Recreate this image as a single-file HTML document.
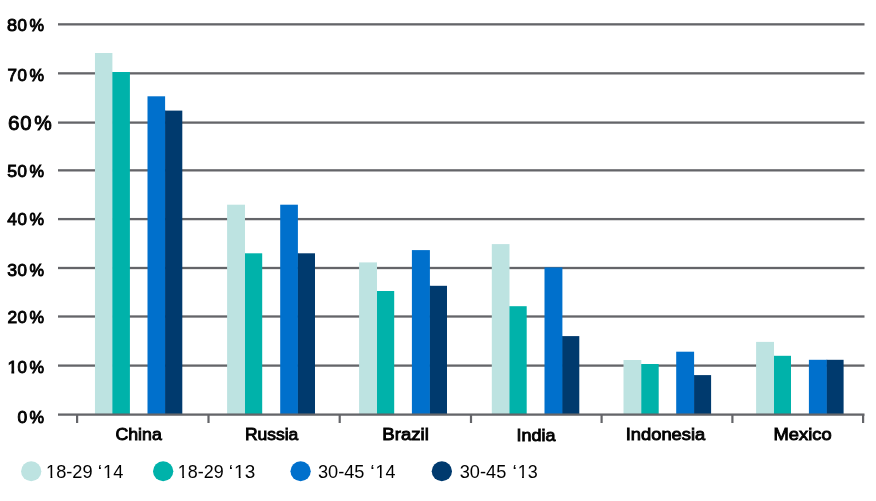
<!DOCTYPE html>
<html><head><meta charset="utf-8"><title>Chart</title>
<style>
html,body{margin:0;padding:0;background:#fff;width:876px;height:501px;overflow:hidden}
svg{display:block}
text{font-family:"Liberation Sans",Arial,Helvetica,sans-serif;fill:#000}
</style></head><body>
<svg width="876" height="501" viewBox="0 0 876 501">
<rect x="0" y="0" width="876" height="501" fill="#fff"/>
<rect x="58" y="364.45" width="806.5" height="2.3" fill="#646569"/>
<rect x="58" y="315.35" width="806.5" height="2.3" fill="#646569"/>
<rect x="58" y="266.85" width="806.5" height="2.3" fill="#646569"/>
<rect x="58" y="217.95" width="806.5" height="2.3" fill="#646569"/>
<rect x="58" y="169.20" width="806.5" height="2.3" fill="#646569"/>
<rect x="58" y="121.45" width="806.5" height="2.3" fill="#646569"/>
<rect x="58" y="72.20" width="806.5" height="2.3" fill="#646569"/>
<rect x="58" y="23.20" width="806.5" height="2.3" fill="#646569"/>
<rect x="111.90" y="72.00" width="1" height="342.60" fill="#bde3e1"/>
<rect x="164.60" y="110.60" width="1" height="304.00" fill="#0070cc"/>
<rect x="94.97" y="53.00" width="17.43" height="361.60" fill="#bde3e1"/>
<rect x="112.40" y="72.00" width="17.50" height="342.60" fill="#00b2aa"/>
<rect x="147.50" y="96.30" width="17.60" height="318.30" fill="#0070cc"/>
<rect x="165.10" y="110.60" width="17.20" height="304.00" fill="#003a6e"/>
<rect x="244.50" y="253.30" width="1" height="161.30" fill="#bde3e1"/>
<rect x="297.40" y="253.30" width="1" height="161.30" fill="#0070cc"/>
<rect x="227.10" y="204.70" width="17.90" height="209.90" fill="#bde3e1"/>
<rect x="245.00" y="253.30" width="17.20" height="161.30" fill="#00b2aa"/>
<rect x="280.20" y="204.70" width="17.70" height="209.90" fill="#0070cc"/>
<rect x="297.90" y="253.30" width="17.10" height="161.30" fill="#003a6e"/>
<rect x="376.50" y="291.00" width="1" height="123.60" fill="#bde3e1"/>
<rect x="429.40" y="285.80" width="1" height="128.80" fill="#0070cc"/>
<rect x="359.10" y="262.40" width="17.90" height="152.20" fill="#bde3e1"/>
<rect x="377.00" y="291.00" width="17.20" height="123.60" fill="#00b2aa"/>
<rect x="411.90" y="250.10" width="18.00" height="164.50" fill="#0070cc"/>
<rect x="429.90" y="285.80" width="17.10" height="128.80" fill="#003a6e"/>
<rect x="509.00" y="306.20" width="1" height="108.40" fill="#bde3e1"/>
<rect x="561.90" y="336.10" width="1" height="78.50" fill="#0070cc"/>
<rect x="491.80" y="244.10" width="17.70" height="170.50" fill="#bde3e1"/>
<rect x="509.50" y="306.20" width="17.20" height="108.40" fill="#00b2aa"/>
<rect x="544.50" y="267.40" width="17.90" height="147.20" fill="#0070cc"/>
<rect x="562.40" y="336.10" width="16.90" height="78.50" fill="#003a6e"/>
<rect x="640.80" y="364.00" width="1" height="50.60" fill="#bde3e1"/>
<rect x="693.60" y="375.10" width="1" height="39.50" fill="#0070cc"/>
<rect x="623.50" y="360.00" width="17.80" height="54.60" fill="#bde3e1"/>
<rect x="641.30" y="364.00" width="17.40" height="50.60" fill="#00b2aa"/>
<rect x="676.20" y="351.70" width="17.90" height="62.90" fill="#0070cc"/>
<rect x="694.10" y="375.10" width="17.00" height="39.50" fill="#003a6e"/>
<rect x="773.50" y="355.80" width="1" height="58.80" fill="#bde3e1"/>
<rect x="826.30" y="359.80" width="1" height="54.80" fill="#0070cc"/>
<rect x="756.10" y="341.90" width="17.90" height="72.70" fill="#bde3e1"/>
<rect x="774.00" y="355.80" width="17.00" height="58.80" fill="#00b2aa"/>
<rect x="808.90" y="359.80" width="17.90" height="54.80" fill="#0070cc"/>
<rect x="826.80" y="359.80" width="16.80" height="54.80" fill="#003a6e"/>
<rect x="58" y="413.45" width="806.5" height="2.3" fill="#646569"/>
<rect x="76.00" y="414.60" width="2.2" height="8.40" fill="#646569"/>
<rect x="207.40" y="414.60" width="2.2" height="8.40" fill="#646569"/>
<rect x="338.60" y="414.60" width="2.2" height="8.40" fill="#646569"/>
<rect x="469.90" y="414.60" width="2.2" height="8.40" fill="#646569"/>
<rect x="600.50" y="414.60" width="2.2" height="8.40" fill="#646569"/>
<rect x="731.30" y="414.60" width="2.2" height="8.40" fill="#646569"/>
<rect x="862.00" y="414.60" width="2.2" height="8.40" fill="#646569"/>
<g opacity="0.999">
<text transform="translate(7.05 30.60) scale(1.0777 1)" font-size="16.79" stroke="#000" stroke-width="0.9">8</text>
<text transform="translate(17.59 30.60) scale(1.0126 1)" font-size="16.79" stroke="#000" stroke-width="0.9">0</text>
<text transform="translate(29.46 30.60) scale(0.9724 1)" font-size="16.79" stroke="#000" stroke-width="0.9">%</text>
<text transform="translate(7.49 81.10) scale(1.0118 1)" font-size="16.79" stroke="#000" stroke-width="0.9">7</text>
<text transform="translate(17.59 81.10) scale(1.0126 1)" font-size="16.79" stroke="#000" stroke-width="0.9">0</text>
<text transform="translate(29.46 81.10) scale(0.9724 1)" font-size="16.79" stroke="#000" stroke-width="0.9">%</text>
<text transform="translate(7.90 129.63) scale(1.0038 1)" font-size="20.66" stroke="#000" stroke-width="0.9">6</text>
<text transform="translate(20.13 129.63) scale(0.9814 1)" font-size="20.66" stroke="#000" stroke-width="0.9">0</text>
<text transform="translate(34.36 129.63) scale(0.9521 1)" font-size="20.66" stroke="#000" stroke-width="0.9">%</text>
<text transform="translate(7.28 177.26) scale(1.0526 1)" font-size="16.79" stroke="#000" stroke-width="0.9">5</text>
<text transform="translate(17.59 177.26) scale(1.0126 1)" font-size="16.79" stroke="#000" stroke-width="0.9">0</text>
<text transform="translate(29.46 177.26) scale(0.9724 1)" font-size="16.79" stroke="#000" stroke-width="0.9">%</text>
<text transform="translate(7.30 225.10) scale(1.0378 1)" font-size="16.79" stroke="#000" stroke-width="0.9">4</text>
<text transform="translate(17.59 225.10) scale(1.0126 1)" font-size="16.79" stroke="#000" stroke-width="0.9">0</text>
<text transform="translate(29.46 225.10) scale(0.9724 1)" font-size="16.79" stroke="#000" stroke-width="0.9">%</text>
<text transform="translate(7.24 275.50) scale(1.0514 1)" font-size="16.79" stroke="#000" stroke-width="0.9">3</text>
<text transform="translate(17.59 275.50) scale(1.0126 1)" font-size="16.79" stroke="#000" stroke-width="0.9">0</text>
<text transform="translate(29.46 275.50) scale(0.9724 1)" font-size="16.79" stroke="#000" stroke-width="0.9">%</text>
<text transform="translate(7.38 323.10) scale(1.0353 1)" font-size="16.79" stroke="#000" stroke-width="0.9">2</text>
<text transform="translate(17.59 323.10) scale(1.0126 1)" font-size="16.79" stroke="#000" stroke-width="0.9">0</text>
<text transform="translate(29.46 323.10) scale(0.9724 1)" font-size="16.79" stroke="#000" stroke-width="0.9">%</text>
<text transform="translate(7.46 372.90) scale(1.0741 1)" font-size="16.79" stroke="#000" stroke-width="0.9">1</text>
<text transform="translate(17.59 372.90) scale(1.0126 1)" font-size="16.79" stroke="#000" stroke-width="0.9">0</text>
<text transform="translate(29.46 372.90) scale(0.9724 1)" font-size="16.79" stroke="#000" stroke-width="0.9">%</text>
<text transform="translate(17.44 422.60) scale(1.0400 1)" font-size="16.79" stroke="#000" stroke-width="0.9">0</text>
<text transform="translate(29.46 422.60) scale(0.9724 1)" font-size="16.79" stroke="#000" stroke-width="0.9">%</text>
<text transform="translate(115.48 440.07) scale(1.0360 1)" font-size="17.1" stroke="#000" stroke-width="0.9">China</text>
<text transform="translate(244.88 440.07) scale(1.0222 1)" font-size="17.1" stroke="#000" stroke-width="0.9">Russia</text>
<text transform="translate(382.31 440.27) scale(1.0878 1)" font-size="17.1" stroke="#000" stroke-width="0.9">Brazil</text>
<text transform="translate(516.49 441.07) scale(1.0510 1)" font-size="17.1" stroke="#000" stroke-width="0.9">India</text>
<text transform="translate(625.76 440.47) scale(1.0717 1)" font-size="17.1" stroke="#000" stroke-width="0.9">Indonesia</text>
<text transform="translate(773.53 440.07) scale(1.0730 1)" font-size="17.1" stroke="#000" stroke-width="0.9">Mexico</text>
<text transform="translate(46.03 477.55) scale(1.0049 1)" font-size="18.14">18-29</text>
<text transform="translate(97.65 477.55) scale(1.1000 1)" font-size="18.14">‘</text>
<text transform="translate(103.08 477.55) scale(1.0036 1)" font-size="18.14">14</text>
<text transform="translate(177.86 477.55) scale(0.9877 1)" font-size="18.14">18-29</text>
<text transform="translate(228.82 477.55) scale(1.1000 1)" font-size="18.14">‘</text>
<text transform="translate(234.11 477.55) scale(1.0439 1)" font-size="18.14">13</text>
<text transform="translate(317.95 477.55) scale(1.0034 1)" font-size="18.14">30-45</text>
<text transform="translate(370.20 477.55) scale(1.1000 1)" font-size="18.14">‘</text>
<text transform="translate(375.46 477.55) scale(0.9866 1)" font-size="18.14">14</text>
<text transform="translate(459.75 477.55) scale(1.0034 1)" font-size="18.14">30-45</text>
<text transform="translate(512.40 477.55) scale(1.1000 1)" font-size="18.14">‘</text>
<text transform="translate(517.66 477.55) scale(0.9893 1)" font-size="18.14">13</text>
</g>
<g transform="translate(7.46 372.90) scale(1.0741 1)" fill="#fff"><rect x="-0.07" y="-2.05" width="3.72" height="3.20"/><rect x="6.28" y="-2.05" width="3.59" height="3.20"/></g>
<g transform="translate(46.03 477.55) scale(1.0049 1)" fill="#fff"><rect x="0.48" y="-1.71" width="3.96" height="2.41"/><rect x="6.28" y="-1.71" width="3.82" height="2.41"/></g>
<g transform="translate(103.08 477.55) scale(1.0036 1)" fill="#fff"><rect x="0.48" y="-1.71" width="3.96" height="2.41"/><rect x="6.28" y="-1.71" width="3.82" height="2.41"/></g>
<g transform="translate(177.86 477.55) scale(0.9877 1)" fill="#fff"><rect x="0.48" y="-1.71" width="3.96" height="2.41"/><rect x="6.28" y="-1.71" width="3.82" height="2.41"/></g>
<g transform="translate(234.11 477.55) scale(1.0439 1)" fill="#fff"><rect x="0.48" y="-1.71" width="3.96" height="2.41"/><rect x="6.28" y="-1.71" width="3.82" height="2.41"/></g>
<g transform="translate(375.46 477.55) scale(0.9866 1)" fill="#fff"><rect x="0.48" y="-1.71" width="3.96" height="2.41"/><rect x="6.28" y="-1.71" width="3.82" height="2.41"/></g>
<g transform="translate(517.66 477.55) scale(0.9893 1)" fill="#fff"><rect x="0.48" y="-1.71" width="3.96" height="2.41"/><rect x="6.28" y="-1.71" width="3.82" height="2.41"/></g>
<ellipse cx="31.2" cy="471.25" rx="10.15" ry="9.9" fill="#bde3e1"/>
<ellipse cx="163.15" cy="471.25" rx="10.15" ry="9.9" fill="#00b2aa"/>
<ellipse cx="300.6" cy="471.25" rx="10.15" ry="9.9" fill="#0070cc"/>
<ellipse cx="441.85" cy="471.25" rx="10.15" ry="9.9" fill="#003a6e"/>
</svg>
</body></html>
